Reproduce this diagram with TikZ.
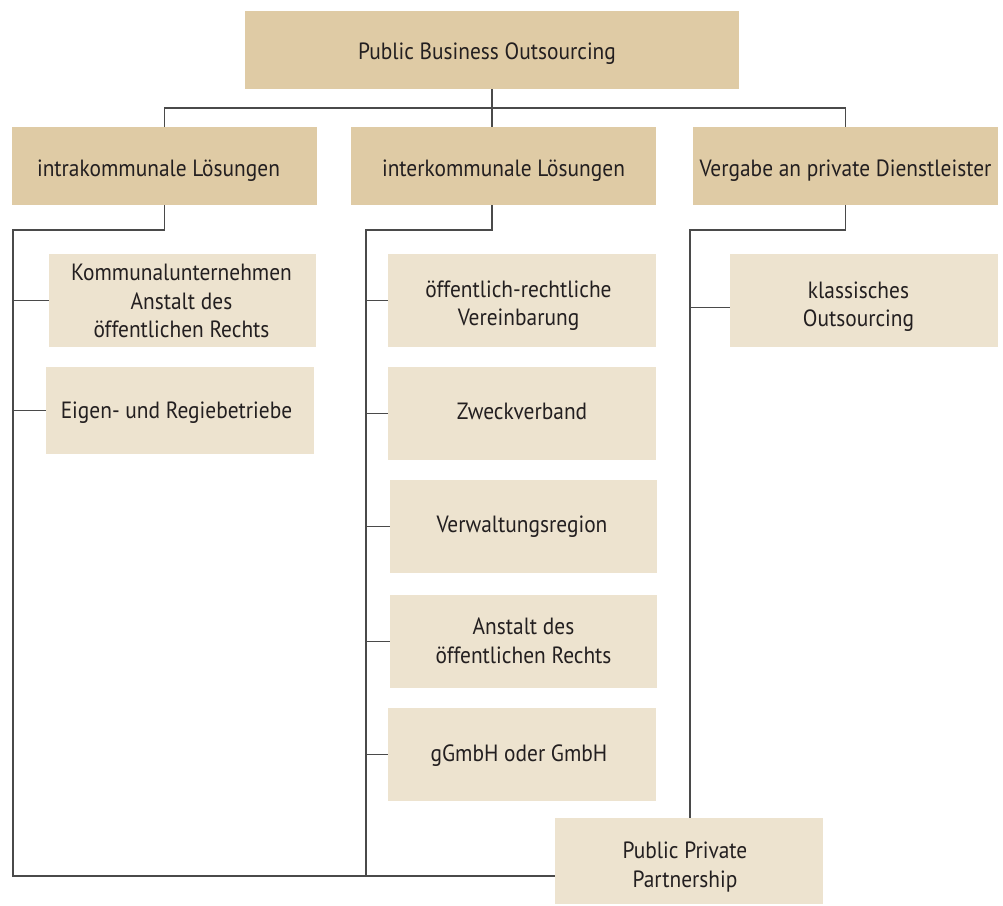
\documentclass[tikz,border=0pt]{standalone}
\usepackage{fontspec}
\setmainfont{PT Sans}[FakeStretch=0.91]
\usetikzlibrary{calc}
\definecolor{headfill}{HTML}{DFCBA5}
\definecolor{itemfill}{HTML}{EDE3CF}
\definecolor{linegray}{HTML}{4A4A4A}
\definecolor{textdark}{HTML}{231F20}
\tikzset{
  basebox/.style={anchor=north west, inner sep=0pt, outer sep=0pt,
    text=textdark, font=\fontsize{23.5}{28.5}\selectfont},
  headbox/.style={basebox, fill=headfill},
  itembox/.style={basebox, fill=itemfill},
  link/.style={draw=linegray, line width=1.3pt}
}
% #1 style, #2 name, #3 x, #4 y, #5 width, #6 height,
% #7 horizontal text offset, #8 vertical text lift, #9 lines of text
\newcommand{\boxat}[9]{%
  \node[#1, minimum width=#5pt, minimum height=#6pt] (#2) at (#3,#4)
    {\kern#7pt\raisebox{#8pt}[\height][\depth]{\begin{tabular}{@{}c@{}}#9\end{tabular}}\kern-#7pt};}
\begin{document}
\begin{tikzpicture}[x=1pt, y=-1pt]
\useasboundingbox (0,0) rectangle (1003,905);

% top level
\boxat{headbox}{top}{245}{11}{494}{78}{-5}{-3.5}{Public Business Outsourcing}

% second level
\boxat{headbox}{intra}{12}{127}{305}{78}{-6}{-5}{intrakommunale Lösungen}
\boxat{headbox}{inter}{351}{127}{305}{78}{0}{-5}{interkommunale Lösungen}
\boxat{headbox}{verg}{693}{127}{305}{78}{0}{-5}{Vergabe an private Dienstleister}

% intrakommunal
\boxat{itembox}{kom}{49}{254}{267}{93}{-1}{-3}{Kommunalunternehmen\\Anstalt des\\öffentlichen Rechts}
\boxat{itembox}{eigen}{46}{367}{268}{87}{-3.5}{-2}{Eigen- und Regiebetriebe}

% interkommunal
\boxat{itembox}{oerv}{388}{254}{268}{93}{-3.5}{-5.5}{öffentlich-rechtliche\\Vereinbarung}
\boxat{itembox}{zweck}{388}{367}{268}{93}{0}{0}{Zweckverband}
\boxat{itembox}{verw}{390}{480}{267}{93}{-1.5}{0}{Verwaltungsregion}
\boxat{itembox}{aoer}{390}{595}{267}{93}{0}{-2}{Anstalt des\\öffentlichen Rechts}
\boxat{itembox}{gmbh}{388}{708}{268}{93}{-3}{-1.5}{gGmbH oder GmbH}

% private
\boxat{itembox}{klass}{730}{254}{268}{93}{-5.5}{-6.5}{klassisches\\Outsourcing}
\boxat{itembox}{ppp}{555}{818}{268}{86}{-4}{-6.5}{Public Private\\Partnership}

% bus lines
\coordinate (bus) at (0,108);
\coordinate (Lt) at (13,230);
\coordinate (Lb) at (13,876);
\coordinate (Mt) at (366,230);
\coordinate (Mb) at (366,876);
\coordinate (Rt) at (690,230);

\draw[link] (top.south) -- (top.south |- inter.north);
\draw[link] (intra.north) |- (verg.north |- bus) -- (verg.north);

% left column
\draw[link] (intra.south) |- (Lt) -- (Lb) -- (ppp.west |- Lb);
\draw[link] (Lt |- kom.west) -- (kom.west);
\draw[link] (Lt |- eigen.west) -- (eigen.west);

% middle column
\draw[link] (top.south |- inter.south) |- (Mt) -- (Mb);
\draw[link] (Mt |- oerv.west) -- (oerv.west);
\draw[link] (Mt |- zweck.west) -- (zweck.west);
\draw[link] (Mt |- verw.west) -- (verw.west);
\draw[link] (Mt |- aoer.west) -- (aoer.west);
\draw[link] (Mt |- gmbh.west) -- (gmbh.west);

% right column
\draw[link] (verg.south) |- (Rt) -- (Rt |- ppp.north);
\draw[link] ($(Rt |- klass.west)+(0,7)$) -- ($(klass.west)+(0,7)$);
\end{tikzpicture}
\end{document}
